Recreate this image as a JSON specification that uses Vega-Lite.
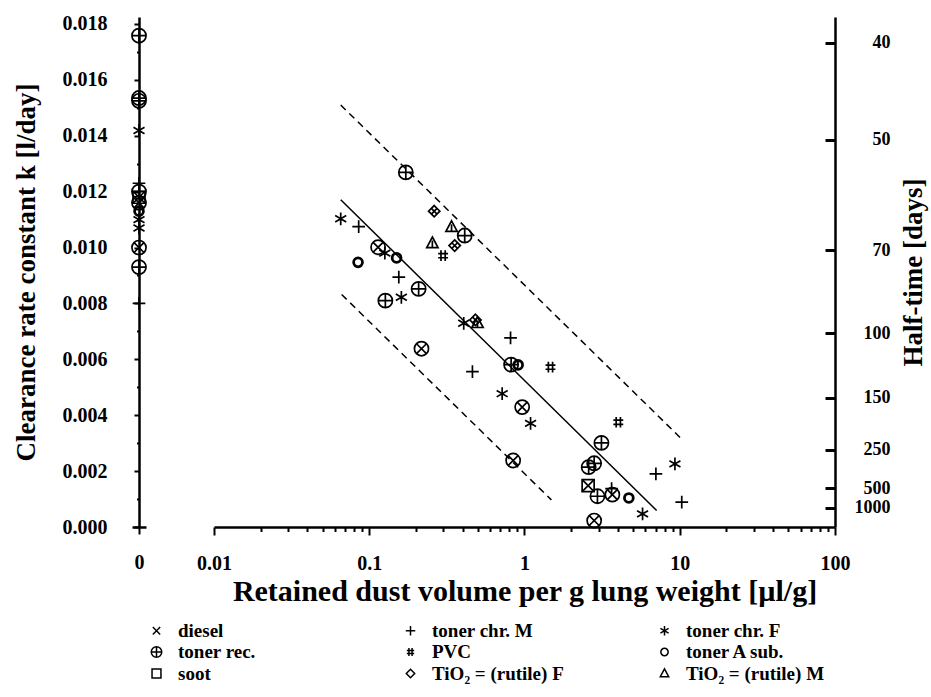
{
  "$schema": "https://vega.github.io/schema/vega-lite/v6.json",
  "background": "white",
  "padding": {"left": 12, "top": 13, "right": 4, "bottom": 4},
  "bounds": "flush",
  "spacing": 68,
  "config": {
    "view": {"stroke": null},
    "font": "Liberation Serif",
    "axis": {
      "labelFont": "Liberation Serif", "labelFontWeight": "bold", "labelFontSize": 20, "labelColor": "black",
      "titleFont": "Liberation Serif", "titleFontWeight": "bold", "titleFontSize": 27, "titleColor": "black",
      "domainColor": "black", "tickColor": "black", "grid": false, "domainWidth": 2.5, "tickWidth": 2
    },
    "legend": {
      "orient": "none", "legendX": 15, "legendY": 604, "columns": 3, "columnPadding": 84, "rowPadding": 1.5,
      "gridAlign": "all",
      "labelFont": "Liberation Serif", "labelFontWeight": "bold", "labelFontSize": 19, "labelColor": "black",
      "symbolSize": 110, "symbolStrokeWidth": 1.5, "symbolStrokeColor": "black", "symbolFillColor": "transparent",
      "labelOffset": 12, "padding": 0
    }
  },
  "datasets": {
    "pts": [
      {"series": "diesel", "dose": 0.114, "k": 0.01001},
      {"series": "diesel", "dose": 0.217, "k": 0.00638},
      {"series": "diesel", "dose": 0.966, "k": 0.00429},
      {"series": "diesel", "dose": 0.845, "k": 0.00238},
      {"series": "diesel", "dose": 3.68, "k": 0.00116},
      {"series": "diesel", "dose": 2.81, "k": 0.00023},
      {"series": "diesel", "dose": 0, "k": 0.0116},
      {"series": "diesel", "dose": 0, "k": 0.0100},
      {"series": "toner rec.", "dose": 0.172, "k": 0.01269},
      {"series": "toner rec.", "dose": 0.412, "k": 0.01043},
      {"series": "toner rec.", "dose": 0.208, "k": 0.00852},
      {"series": "toner rec.", "dose": 0.127, "k": 0.0081},
      {"series": "toner rec.", "dose": 0.82, "k": 0.00581},
      {"series": "toner rec.", "dose": 3.13, "k": 0.00301},
      {"series": "toner rec.", "dose": 2.81, "k": 0.00228},
      {"series": "toner rec.", "dose": 2.59, "k": 0.00214},
      {"series": "toner rec.", "dose": 2.95, "k": 0.0011},
      {"series": "toner rec.", "dose": 0, "k": 0.01758},
      {"series": "toner rec.", "dose": 0, "k": 0.01535},
      {"series": "toner rec.", "dose": 0, "k": 0.01525},
      {"series": "toner rec.", "dose": 0, "k": 0.012},
      {"series": "toner rec.", "dose": 0, "k": 0.0093},
      {"series": "toner chr. M", "dose": 0.0855, "k": 0.01075},
      {"series": "toner chr. M", "dose": 0.155, "k": 0.00894},
      {"series": "toner chr. M", "dose": 0.813, "k": 0.00677},
      {"series": "toner chr. M", "dose": 0.462, "k": 0.00556},
      {"series": "toner chr. M", "dose": 7.02, "k": 0.0019},
      {"series": "toner chr. M", "dose": 3.64, "k": 0.00137},
      {"series": "toner chr. M", "dose": 10.3, "k": 0.00089},
      {"series": "toner chr. M", "dose": 0, "k": 0.0123},
      {"series": "toner chr. M", "dose": 0, "k": 0.008},
      {"series": "toner chr. F", "dose": 0.0655, "k": 0.01103},
      {"series": "toner chr. F", "dose": 0.126, "k": 0.0098},
      {"series": "toner chr. F", "dose": 0.161, "k": 0.00822},
      {"series": "toner chr. F", "dose": 0.406, "k": 0.00729},
      {"series": "toner chr. F", "dose": 0.718, "k": 0.00477},
      {"series": "toner chr. F", "dose": 1.094, "k": 0.00371},
      {"series": "toner chr. F", "dose": 9.31, "k": 0.00226},
      {"series": "toner chr. F", "dose": 5.76, "k": 0.00047},
      {"series": "toner chr. F", "dose": 0, "k": 0.01419},
      {"series": "toner chr. F", "dose": 0, "k": 0.011},
      {"series": "toner chr. F", "dose": 0, "k": 0.0107},
      {"series": "PVC", "dose": 0.299, "k": 0.00971},
      {"series": "PVC", "dose": 1.47, "k": 0.00572},
      {"series": "PVC", "dose": 4.02, "k": 0.00375},
      {"series": "toner A sub.", "dose": 0.15, "k": 0.00963},
      {"series": "toner A sub.", "dose": 0.0847, "k": 0.00947},
      {"series": "toner A sub.", "dose": 0.91, "k": 0.0058},
      {"series": "toner A sub.", "dose": 4.7, "k": 0.00104},
      {"series": "toner A sub.", "dose": 0, "k": 0.0113},
      {"series": "soot", "dose": 2.57, "k": 0.00148},
      {"series": "soot", "dose": 0, "k": 0.0118},
      {"series": "TiO₂ = (rutile) F", "dose": 0.262, "k": 0.0113},
      {"series": "TiO₂ = (rutile) F", "dose": 0.355, "k": 0.01007},
      {"series": "TiO₂ = (rutile) F", "dose": 0.483, "k": 0.00741},
      {"series": "TiO₂ = (rutile) M", "dose": 0.339, "k": 0.01073},
      {"series": "TiO₂ = (rutile) M", "dose": 0.255, "k": 0.01015},
      {"series": "TiO₂ = (rutile) M", "dose": 0.498, "k": 0.00729}
    ],
    "fit": [
      {"line": "fit", "dose": 0.0655, "k": 0.01171},
      {"line": "fit", "dose": 7.1, "k": 0.00059},
      {"line": "upper", "dose": 0.0655, "k": 0.0151},
      {"line": "upper", "dose": 10.5, "k": 0.0031},
      {"line": "lower", "dose": 0.0664, "k": 0.00832},
      {"line": "lower", "dose": 1.49, "k": 0.00097}
    ]
  },
  "hconcat": [
    {
      "width": 14,
      "height": 510,
      "data": {"name": "pts"},
      "transform": [{"filter": "datum.dose == 0"}],
      "encoding": {
        "x": {
          "field": "dose", "type": "quantitative",
          "scale": {"domain": [-1, 1], "nice": false, "zero": false},
          "axis": {"values": [0], "title": null, "tickSize": 7, "labelPadding": 18, "labelFlush": false}
        },
        "y": {
          "field": "k", "type": "quantitative",
          "scale": {"domain": [0, 0.01825], "nice": false, "zero": false},
          "axis": {
            "orient": "left", "offset": -7,
            "values": [0, 0.001, 0.002, 0.003, 0.004, 0.005, 0.006, 0.007, 0.008, 0.009, 0.01, 0.011, 0.012, 0.013, 0.014, 0.015, 0.016, 0.017, 0.018],
            "format": ".3f",
            "labelExpr": "round(datum.value*1000) % 2 == 0 ? datum.label : ''",
            "tickSize": {"condition": {"test": "round(datum.value*1000) % 2 == 0", "value": 5}, "value": 2.5},
            "labelPadding": 27, "labelOverlap": false,
            "title": "Clearance rate constant k [l/day]",
            "titlePadding": 22
          }
        }
      },
      "layer": [
        {
          "mark": {"type": "point", "filled": false, "color": "black", "size": 200, "strokeWidth": 1.7, "opacity": 1},
          "encoding": {
            "shape": {
              "field": "series", "type": "nominal",
              "scale": {
                "domain": ["diesel", "toner rec.", "soot", "toner chr. M", "PVC", "TiO₂ = (rutile) F", "toner chr. F", "toner A sub.", "TiO₂ = (rutile) M"],
                "range": [
                  "M-0.7,-0.7L0.7,0.7M-0.7,0.7L0.7,-0.7",
                  "M-1,0A1,1,0,1,0,1,0A1,1,0,1,0,-1,0ZM-1,0L1,0M0,-1L0,1",
                  "M-0.85,-0.85L0.85,-0.85L0.85,0.85L-0.85,0.85Z",
                  "M-0.9,0L0.9,0M0,-0.9L0,0.9",
                  "M-0.3,-0.75L-0.3,0.75M0.3,-0.75L0.3,0.75M-0.7,-0.3L0.7,-0.3M-0.7,0.3L0.7,0.3",
                  "M0,-0.8L0.8,0L0,0.8L-0.8,0Z",
                  "M0,-0.9L0,0.9M-0.78,-0.45L0.78,0.45M-0.78,0.45L0.78,-0.45",
                  "M-0.7,0A0.7,0.7,0,1,0,0.7,0A0.7,0.7,0,1,0,-0.7,0Z",
                  "M0,-0.9L0.8,0.6L-0.8,0.6Z"
                ]
              },
              "legend": {"title": null}
            }
          }
        },
        {
          "transform": [{"filter": "datum.series == 'diesel'"}],
          "mark": {"type": "point", "filled": false, "color": "black", "size": 200, "strokeWidth": 1.7, "opacity": 1, "shape": "M-1,0A1,1,0,1,0,1,0A1,1,0,1,0,-1,0Z"}
        },
        {
          "transform": [{"filter": "datum.series == 'soot'"}],
          "mark": {"type": "point", "filled": false, "color": "black", "size": 200, "strokeWidth": 1.7, "opacity": 1, "shape": "M-0.85,-0.85L0.85,0.85M-0.85,0.85L0.85,-0.85"}
        },
        {
          "transform": [{"filter": "datum.series == 'toner A sub.'"}],
          "mark": {"type": "point", "filled": false, "color": "black", "size": 200, "strokeWidth": 1.7, "opacity": 1, "shape": "M-0.55,0A0.55,0.55,0,1,0,0.55,0A0.55,0.55,0,1,0,-0.55,0Z"}
        }
      ]
    },
    {
      "width": 621,
      "height": 510,
      "encoding": {
        "x": {
          "field": "dose", "type": "quantitative",
          "scale": {"type": "log", "domain": [0.01, 100], "nice": false},
          "axis": {
            "values": [0.01, 0.02, 0.03, 0.04, 0.05, 0.06, 0.07, 0.08, 0.09, 0.1, 0.2, 0.3, 0.4, 0.5, 0.6, 0.7, 0.8, 0.9, 1, 2, 3, 4, 5, 6, 7, 8, 9, 10, 20, 30, 40, 50, 60, 70, 80, 90, 100],
            "format": "~g",
            "labelExpr": "indexof([0.01, 0.1, 1, 10, 100], datum.value) >= 0 ? datum.label : ''",
            "tickSize": {"condition": {"test": "indexof([0.01, 0.1, 1, 10, 100], datum.value) >= 0", "value": 8}, "value": 4.5},
            "labelOverlap": false, "labelFlush": false, "labelPadding": 18,
            "title": "Retained dust volume per g lung weight [µl/g]",
            "titleFontSize": 30,
            "titlePadding": 3
          }
        },
        "y": {
          "field": "k", "type": "quantitative",
          "scale": {"domain": [0, 0.01825], "nice": false, "zero": false},
          "axis": {
            "orient": "right",
            "values": [0.017328679513998633, 0.013862943611198906, 0.009902102579427789, 0.006931471805599453, 0.004620981203732969, 0.0027725887222397812, 0.0013862943611198906, 0.0006931471805599453],
            "labelExpr": "format(0.6931471805599453/datum.value, '.0f')",
            "tickSize": -10, "tickWidth": 3,
            "labelAlign": "right", "labelPadding": 65, "labelOverlap": false, "labelFontSize": 18,
            "title": "Half-time [days]", "titleAngle": 270, "titleX": 78, "titleY": 255,
            "titleBaseline": "middle", "titleAlign": "center"
          }
        }
      },
      "layer": [
        {
          "data": {"name": "pts"},
          "transform": [{"filter": "datum.dose > 0"}],
          "mark": {"type": "point", "filled": false, "color": "black", "size": 200, "strokeWidth": 1.7, "opacity": 1},
          "encoding": {
            "shape": {
              "field": "series", "type": "nominal",
              "scale": {
                "domain": ["diesel", "toner rec.", "soot", "toner chr. M", "PVC", "TiO₂ = (rutile) F", "toner chr. F", "toner A sub.", "TiO₂ = (rutile) M"],
                "range": [
                  "M-0.7,-0.7L0.7,0.7M-0.7,0.7L0.7,-0.7",
                  "M-1,0A1,1,0,1,0,1,0A1,1,0,1,0,-1,0ZM-1,0L1,0M0,-1L0,1",
                  "M-0.85,-0.85L0.85,-0.85L0.85,0.85L-0.85,0.85Z",
                  "M-0.9,0L0.9,0M0,-0.9L0,0.9",
                  "M-0.3,-0.75L-0.3,0.75M0.3,-0.75L0.3,0.75M-0.7,-0.3L0.7,-0.3M-0.7,0.3L0.7,0.3",
                  "M0,-0.8L0.8,0L0,0.8L-0.8,0Z",
                  "M0,-0.9L0,0.9M-0.78,-0.45L0.78,0.45M-0.78,0.45L0.78,-0.45",
                  "M-0.7,0A0.7,0.7,0,1,0,0.7,0A0.7,0.7,0,1,0,-0.7,0Z",
                  "M0,-0.9L0.8,0.6L-0.8,0.6Z"
                ]
              },
              "legend": {"title": null}
            }
          }
        },
        {
          "data": {"name": "pts"},
          "transform": [{"filter": "datum.dose > 0 && datum.series == 'diesel'"}],
          "mark": {"type": "point", "filled": false, "color": "black", "size": 200, "strokeWidth": 1.7, "opacity": 1, "shape": "M-1,0A1,1,0,1,0,1,0A1,1,0,1,0,-1,0Z"}
        },
        {
          "data": {"name": "pts"},
          "transform": [{"filter": "datum.dose > 0 && datum.series == 'soot'"}],
          "mark": {"type": "point", "filled": false, "color": "black", "size": 200, "strokeWidth": 1.7, "opacity": 1, "shape": "M-0.85,-0.85L0.85,0.85M-0.85,0.85L0.85,-0.85"}
        },
        {
          "data": {"name": "pts"},
          "transform": [{"filter": "datum.dose > 0 && datum.series == 'toner A sub.'"}],
          "mark": {"type": "point", "filled": false, "color": "black", "size": 200, "strokeWidth": 1.7, "opacity": 1, "shape": "M-0.55,0A0.55,0.55,0,1,0,0.55,0A0.55,0.55,0,1,0,-0.55,0Z"}
        },
        {
          "data": {"name": "pts"},
          "transform": [{"filter": "datum.dose > 0 && datum.series == 'TiO₂ = (rutile) F'"}],
          "mark": {"type": "point", "filled": false, "color": "black", "size": 200, "strokeWidth": 1.7, "opacity": 1, "shape": "M-0.4,-0.4L0.4,0.4M-0.4,0.4L0.4,-0.4"}
        },
        {
          "data": {"name": "pts"},
          "transform": [{"filter": "datum.dose > 0 && datum.series == 'TiO₂ = (rutile) M'"}],
          "mark": {"type": "point", "filled": false, "color": "black", "size": 200, "strokeWidth": 1.7, "opacity": 1, "shape": "M0,-0.4L0,0.6"}
        },
        {
          "data": {"name": "fit"},
          "transform": [{"filter": "datum.line == 'fit'"}],
          "mark": {"type": "line", "color": "black", "strokeWidth": 1.5},
          "encoding": {"detail": {"field": "line"}}
        },
        {
          "data": {"name": "fit"},
          "transform": [{"filter": "datum.line != 'fit'"}],
          "mark": {"type": "line", "color": "black", "strokeWidth": 1.5, "strokeDash": [7, 5]},
          "encoding": {"detail": {"field": "line"}}
        }
      ]
    }
  ]
}
